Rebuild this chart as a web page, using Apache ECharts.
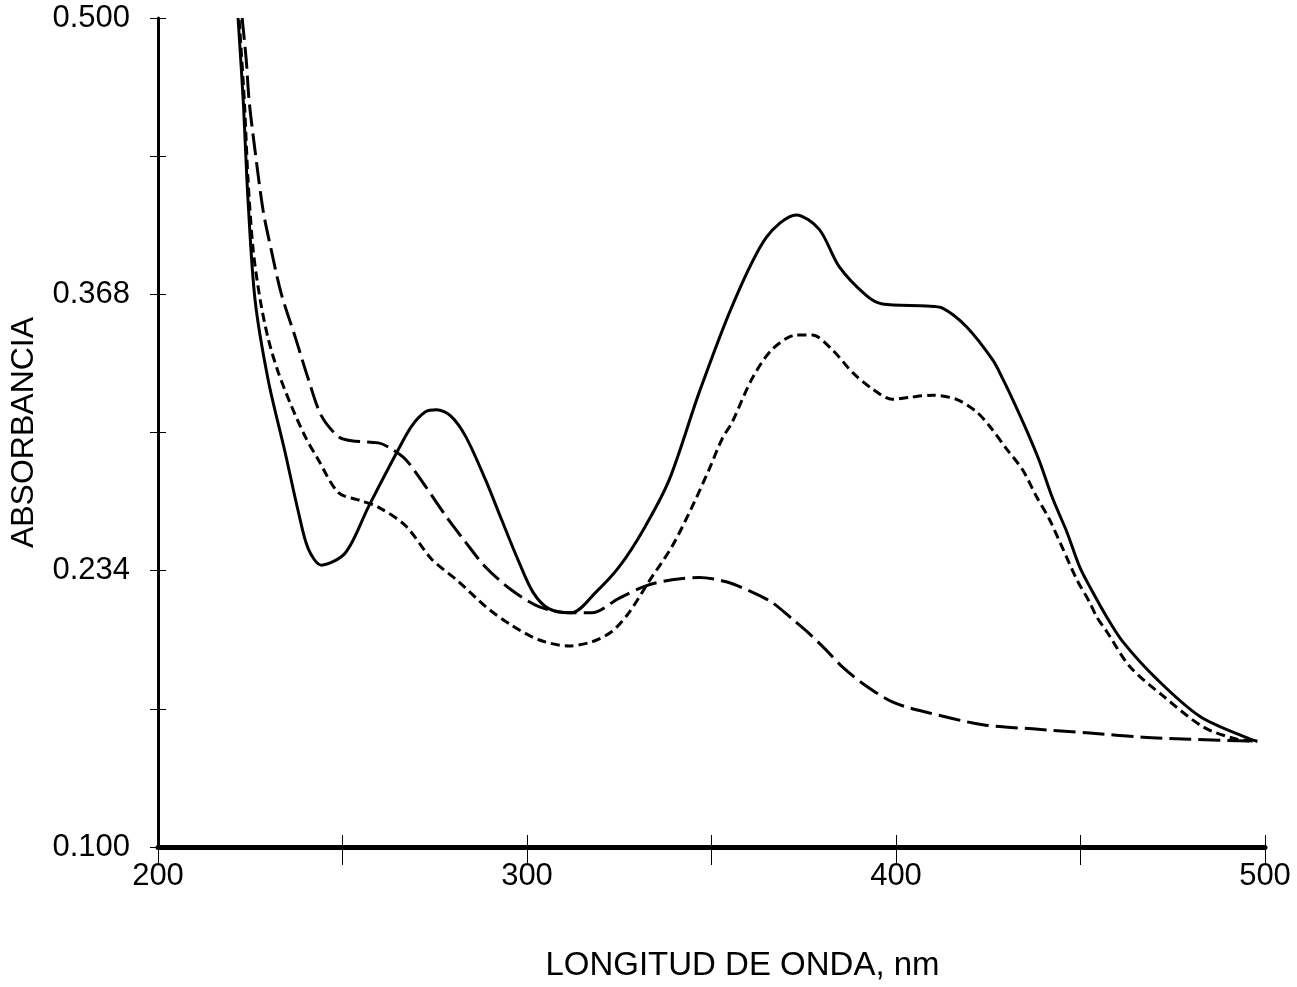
<!DOCTYPE html>
<html>
<head>
<meta charset="utf-8">
<script src="https://cdn.jsdelivr.net/npm/echarts@6/dist/echarts.min.js"></script>
<style>
html,body{margin:0;padding:0;background:#fff;}
#chart{width:1297px;height:987px;}
</style>
</head>
<body>
<div id="chart"></div>
<script>
// Wavelength (nm) / absorbance pairs
const solidCurve = [
  [221.7,0.500],[223.1,0.460],[224.4,0.412],[226.3,0.364],[229.9,0.325],[234.5,0.290],
  [238.0,0.262],[240.7,0.244],[244.3,0.236],[250.8,0.242],[257.0,0.264],[265.2,0.292],
  [268.7,0.303],[272.5,0.310],[275.5,0.311],[279.3,0.308],[283.4,0.298],[288.8,0.277],
  [293.1,0.258],[297.7,0.238],[301.6,0.223],[305.9,0.215],[312.1,0.213],[318.7,0.223],
  [324.9,0.235],[331.5,0.253],[338.5,0.277],[346.6,0.319],[355.6,0.361],[364.8,0.394],
  [373.0,0.405],[379.2,0.398],[384.6,0.380],[392.0,0.366],[396.3,0.362],[408.3,0.361],
  [412.6,0.360],[419.1,0.351],[426.2,0.335],[428.9,0.326],[431.6,0.316],[435.4,0.301],
  [438.9,0.286],[442.5,0.268],[446.3,0.252],[449.8,0.235],[453.3,0.223],[457.1,0.211],
  [461.5,0.199],[470.7,0.181],[482.4,0.163],[496.0,0.152],[497.9,0.151]
];
const shortDashCurve = [
  [222.0,0.499],[223.4,0.460],[224.4,0.422],[225.8,0.388],[227.7,0.364],[229.9,0.345],
  [232.6,0.329],[236.1,0.313],[239.9,0.298],[243.4,0.287],[248.9,0.271],[255.1,0.267],
  [259.7,0.264],[267.1,0.255],[274.1,0.239],[281.5,0.228],[288.8,0.216],[295.8,0.207],
  [303.2,0.200],[311.3,0.197],[317.6,0.199],[323.0,0.204],[327.6,0.213],[333.0,0.228],
  [339.3,0.245],[344.7,0.264],[349.3,0.282],[352.9,0.297],[355.6,0.305],[361.0,0.326],
  [366.4,0.340],[373.0,0.347],[377.3,0.347],[382.7,0.340],[388.2,0.329],[393.6,0.321],
  [399.0,0.316],[403.6,0.317],[409.9,0.318],[416.4,0.316],[421.8,0.310],[425.4,0.303],
  [430.0,0.292],[434.3,0.282],[438.1,0.269],[441.6,0.258],[445.2,0.244],[449.0,0.229],
  [452.5,0.218],[454.4,0.211],[457.1,0.204],[463.4,0.187],[472.3,0.173],[483.2,0.158],
  [492.4,0.152],[497.9,0.151]
];
const longDashCurve = [
  [222.8,0.500],[223.9,0.480],[224.7,0.460],[226.3,0.436],[228.5,0.407],[230.7,0.388],
  [233.4,0.367],[237.2,0.346],[240.7,0.326],[244.3,0.308],[248.9,0.298],[252.4,0.296],
  [259.7,0.295],[262.4,0.293],[267.1,0.287],[272.5,0.274],[277.9,0.260],[283.4,0.247],
  [288.8,0.235],[295.8,0.224],[303.2,0.216],[311.3,0.213],[317.6,0.213],[324.9,0.220],
  [332.2,0.226],[339.3,0.229],[346.6,0.230],[354.0,0.228],[361.0,0.223],[366.4,0.218],
  [371.9,0.210],[376.5,0.203],[381.1,0.195],[385.4,0.187],[390.9,0.179],[399.0,0.170],
  [408.3,0.165],[423.5,0.159],[437.0,0.157],[452.5,0.155],[466.9,0.153],[479.7,0.152],
  [497.9,0.151]
];
const xTickLabels = ['200','','300','','400','','500'];
const yTickLabels = ['0.100','','0.234','','0.368','','0.500'];
const xTitle = 'LONGITUD DE ONDA, nm';
const yTitle = 'ABSORBANCIA';

const FONT = '"Liberation Sans", Arial, sans-serif';
const X_MIN = 200, X_MAX = 500, X_INT = 50;
const Y_MIN = 0.1, Y_MAX = 0.5, Y_INT = 0.4 / 6;

const chart = echarts.init(document.getElementById('chart'), null, {renderer: 'canvas'});
const baseX = {
  type: 'value', min: X_MIN, max: X_MAX, interval: X_INT, position: 'bottom',
  splitLine: {show: false}
};
const baseY = {
  type: 'value', min: Y_MIN, max: Y_MAX, interval: Y_INT, position: 'left',
  splitLine: {show: false}
};
const lineSeries = (data, type) => ({
  type: 'line', data: data, smooth: 0.3,
  showSymbol: false, symbol: 'none',
  lineStyle: {color: '#000', width: 3, type: type}
});
chart.setOption({
  animation: false,
  backgroundColor: '#ffffff',
  grid: {left: 157, right: 32, top: 18, bottom: 137, containLabel: false},
  xAxis: [
    Object.assign({}, baseX, {
      name: xTitle, nameLocation: 'middle', nameGap: 102,
      nameTextStyle: {fontFamily: FONT, fontSize: 33, color: '#000', verticalAlign: 'top',
                      padding: [0, 0, 0, 62]},
      axisLine: {show: true, onZero: false, lineStyle: {color: '#000', width: 5}},
      axisTick: {show: true, inside: false, length: 18, lineStyle: {color: '#000', width: 1}},
      axisLabel: {
        show: true, margin: 14, fontFamily: FONT, fontSize: 31, color: '#000',
        formatter: (v) => xTickLabels[Math.round((v - X_MIN) / X_INT)] || ''
      }
    }),
    Object.assign({}, baseX, {
      axisLine: {show: false, onZero: false},
      axisTick: {show: true, inside: true, length: 12, lineStyle: {color: '#000', width: 1}},
      axisLabel: {show: false}
    })
  ],
  yAxis: [
    Object.assign({}, baseY, {
      name: yTitle, nameLocation: 'middle', nameGap: 118, nameRotate: 90,
      nameTextStyle: {fontFamily: FONT, fontSize: 32, color: '#000'},
      axisLine: {show: true, onZero: false, lineStyle: {color: '#000', width: 3}},
      axisTick: {show: true, inside: false, length: 8, lineStyle: {color: '#000', width: 1}},
      axisLabel: {
        show: true, margin: 28, fontFamily: FONT, fontSize: 31, color: '#000',
        formatter: (v) => yTickLabels[Math.round((v - Y_MIN) / Y_INT)] || ''
      }
    }),
    Object.assign({}, baseY, {
      axisLine: {show: false, onZero: false},
      axisTick: {show: true, inside: true, length: 8, lineStyle: {color: '#000', width: 1}},
      axisLabel: {show: false}
    })
  ],
  series: [
    lineSeries(solidCurve, 'solid'),
    lineSeries(shortDashCurve, [9, 5]),
    lineSeries(longDashCurve, [22, 7])
  ]
});
</script>
</body>
</html>
